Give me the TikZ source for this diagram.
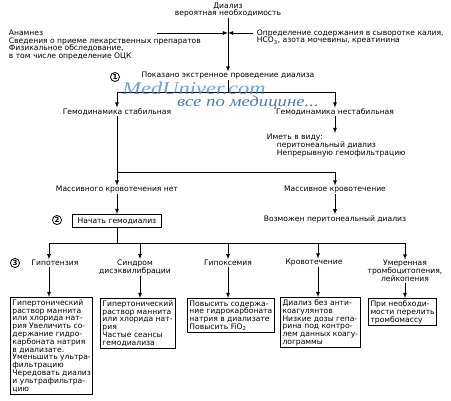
\documentclass[tikz,border=0pt]{standalone}
\usepackage{fontspec}
\setmainfont{DejaVu Sans}
\newfontfamily\wmfont{Liberation Serif}
\usetikzlibrary{positioning}
\definecolor{wmblue}{RGB}{70,140,205}
\definecolor{wmdark}{RGB}{40,85,160}
\begin{document}
\begin{tikzpicture}[x=1pt,y=-1pt,>=latex,line width=0.8pt,
    every node/.style={font=\fontsize{7.6}{7.8}\selectfont,inner sep=0.5pt},
    lbl/.style={align=center},
    txt/.style={align=left},
    actbox/.style={draw,line width=1pt,align=left,inner sep=2pt,anchor=north west},
    num/.style={draw,circle,line width=0.8pt,inner sep=0.7pt,font=\fontsize{7}{7}\selectfont\bfseries}]
  \useasboundingbox (0,0) rectangle (451,400);

  % Top: indications
  \node[lbl] (dial) at (228,10) {Диализ\\вероятная необходимость};
  \node[txt,anchor=west] (anam) at (8,45) {Анамнез\\Сведения о приеме лекарственных препаратов\\Физикальное обследование,\\в том числе определение ОЦК};
  \node[txt,anchor=west] (lab) at (256,37) {Определение содержания в сыворотке калия,\\HCO\textsubscript{3}, азота мочевины, креатинина};
  \coordinate (j0) at (228,33);
  \coordinate (anamA) at (157,33);
  \coordinate (labA) at (253,33);
  \node (ind) at (228,76) {Показано экстренное проведение диализа};
  \node[num] (n1) at (115,77) {1};
  \draw[->] (dial) -- (ind);
  \draw[->] (anamA) -- (j0);
  \draw[->] (labA) -- (j0);

  % Haemodynamics
  \coordinate (j1) at (228,92);
  \coordinate (b1L) at (117,92);
  \coordinate (b1R) at (335,92);
  \node (stab) at (117,112) {Гемодинамика стабильная};
  \node (unst) at (335,112) {Гемодинамика нестабильная};
  \node[txt,anchor=north west] (mind) at (266,133) {Иметь в виду:\\\hspace{10pt}перитонеальный диализ\\\hspace{10pt}Непрерывную гемофильтрацию};
  \draw (ind) -- (j1);
  \draw (b1L) -- (b1R);
  \draw[->] (b1L) -- (stab);
  \draw[->] (b1R) -- (unst);
  \draw[->] (unst) -- (unst |- mind.north);

  % Bleeding
  \coordinate (j2) at (117,172);
  \coordinate (j2R) at (335,172);
  \node (nobl) at (117,190) {Массивного кровотечения нет};
  \node (bl) at (335,190) {Массивное кровотечение};
  \draw[->] (stab) -- (nobl);
  \draw (j2) -- (j2R);
  \draw[->] (j2R) -- (bl);
  \node[draw,line width=1pt,inner sep=2pt,minimum width=89pt,minimum height=13pt] (hd) at (117,221) {Начать гемодиализ};
  \node[num] (n2) at (57,220) {2};
  \node (pd) at (335,219) {Возможен перитонеальный диализ};
  \draw[->] (nobl) -- (hd);
  \draw[->] (bl) -- (pd);

  % Complications
  \coordinate (j3) at (117,243);
  \coordinate (k1) at (49,243);
  \coordinate (k2) at (140,243);
  \coordinate (k3) at (228,243);
  \coordinate (k4) at (318,243);
  \coordinate (k5) at (405,243);
  \draw (hd) -- (j3);
  \draw (k1) -- (k5);
  \node[num] (n3) at (15,263) {3};
  \node (hyp) at (55,263) {Гипотензия};
  \node[lbl] (dis) at (135,267.5) {Синдром\\дисэквилибрации};
  \node (hyx) at (228,263) {Гипоксемия};
  \node (ble) at (314,263) {Кровотечение};
  \node[lbl] (thr) at (405,271) {Умеренная\\тромбоцитопения,\\лейкопения};
  \draw[->] (k1) -- (k1 |- hyp.north);
  \draw[->] (k2) -- (k2 |- dis.north);
  \draw[->] (k3) -- (k3 |- hyx.north);
  \draw[->] (k4) -- (k4 |- ble.north);
  \draw[->] (k5) -- (k5 |- thr.north);

  % Actions
  \node[actbox] (r1) at (10,297) {Гипертонический\\раствор маннита\\или хлорида нат-\\рия Увеличить со-\\держание гидро-\\карбоната натрия\\в диализате.\\Уменьшить ультра-\\фильтрацию\\Чередовать диализ\\и ультрафильтра-\\цию};
  \node[actbox] (r2) at (100,298) {Гипертонический\\раствор маннита\\или хлорида нат-\\рия\\Частые сеансы\\гемодиализа};
  \node[actbox] (r3) at (187,298) {Повысить содержа-\\ние гидрокарбоната\\натрия в диализате\\Повысить FiO\textsubscript{2}};
  \node[actbox] (r4) at (280,297) {Диализ без анти-\\коагулянтов\\Низкие дозы гепа-\\рина под контро-\\лем данных коагу-\\лограммы};
  \node[actbox] (r5) at (368,298) {При необходи-\\мости перелить\\тромбомассу};
  \draw[->] (hyp.south -| k1) -- (r1.north -| k1);
  \draw[->] (dis.south -| k2) -- (r2.north -| k2);
  \draw[->] (hyx.south -| k3) -- (r3.north -| k3);
  \draw[->] (ble.south -| k4) -- (r4.north -| k4);
  \draw[->] (thr.south -| k5) -- (r5.north -| k5);

  % Watermark
  \node[text=wmblue,opacity=0.8,xscale=1.25,font=\wmfont\itshape\fontsize{18}{18}\selectfont] (wmA) at (194,88) {MedUniver.com};
  \node[text=wmdark,opacity=0.8,xscale=1.25,font=\wmfont\itshape\fontsize{15}{15}\selectfont] (wmB) at (248,103) {все по медицине...};
\end{tikzpicture}
\end{document}
